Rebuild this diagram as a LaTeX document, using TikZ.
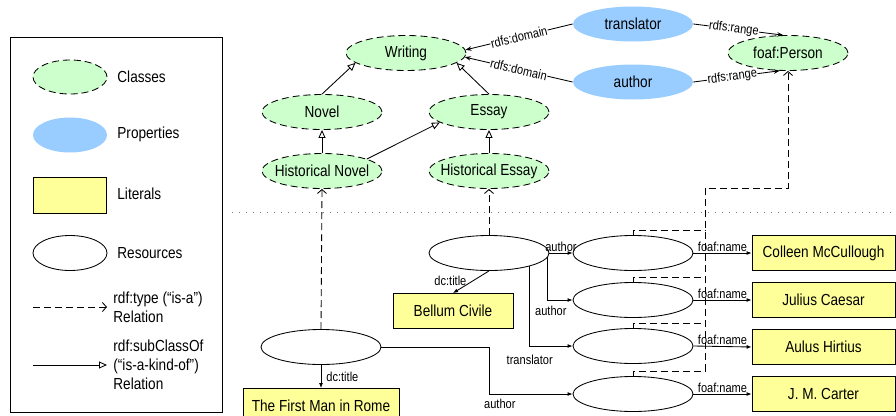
\documentclass[tikz,border=0pt]{standalone}
\usepackage{fontspec}
\setmainfont{Liberation Sans}[FakeStretch=0.85]
\usetikzlibrary{shapes.geometric,arrows.meta}
\definecolor{clsfill}{RGB}{204,255,204}
\definecolor{propfill}{RGB}{153,204,255}
\definecolor{litfill}{RGB}{255,255,153}
\newcommand{\zw}[1]{\makebox[0pt]{#1}}
\newcommand{\mfont}{\fontsize{16}{19}\selectfont}
\newcommand{\sfont}{\fontsize{13}{15}\selectfont}
\begin{document}
\begin{tikzpicture}[x=1pt,y=-1pt,line width=0.85pt,
  dsh/.style={dash pattern=on 7pt off 4pt},
  cls/.style={ellipse,draw,dsh,fill=clsfill,minimum width=120pt,minimum height=35pt,inner sep=0pt,font=\mfont},
  prop/.style={ellipse,fill=propfill,minimum width=120pt,minimum height=35pt,inner sep=0pt,font=\mfont},
  res/.style={ellipse,draw,fill=white,minimum width=120pt,minimum height=35pt,inner sep=0pt},
  lit/.style={rectangle,draw,fill=litfill,minimum width=120pt,minimum height=35pt,inner sep=0pt,font=\mfont},
  legtxt/.style={anchor=west,font=\mfont,align=left,inner sep=0pt},
  lbl/.style={font=\sfont,inner sep=1pt},
  onl/.style={font=\sfont,inner sep=0.5pt,fill=white,sloped},
  dom/.style={-{Stealth[length=6pt,width=4.5pt]}},
  sub/.style={-{Triangle[open,length=8pt,width=7pt]}},
  typ/.style={dsh,-{Straight Barb[length=4pt,width=9pt]}},
  rel/.style={-{Latex[length=5pt,width=4pt]}}]
\useasboundingbox (0,0) rectangle (896,415);
\clip (0,0) rectangle (896,415);

% legend
\node[draw,line width=0.7pt,minimum width=212pt,minimum height=375pt,inner sep=0pt] (legend) at (116,224.5) {};
\node[cls,minimum width=74pt,minimum height=34pt] (lgc) at (70,77) {};
\node[legtxt] (lgct) at (117,77) {Classes};
\node[prop,minimum width=74pt,minimum height=35pt] (lgp) at (70,135) {};
\node[legtxt] (lgpt) at (117,134) {Properties};
\node[lit,minimum width=73pt,minimum height=36pt] (lgl) at (70,195) {};
\node[legtxt] (lglt) at (117,194) {Literals};
\node[res,minimum width=74pt,minimum height=35pt] (lgr) at (70,253) {};
\node[legtxt] (lgrt) at (117,253) {Resources};
\coordinate (lta) at (33,307);
\coordinate (ltb) at (107,307);
\draw[typ] (lta) -- (ltb);
\node[legtxt] (lgtt) at (113,307) {rdf:type (“is-a”)\\Relation};
\coordinate (lsa) at (33,365);
\coordinate (lsb) at (107,365);
\draw[sub] (lsa) -- (lsb);
\node[legtxt] (lgst) at (113,365) {rdf:subClassOf\\(“is-a-kind-of”)\\Relation};

% separator
\coordinate (sepa) at (232,212);
\coordinate (sepb) at (896,212);
\draw[gray,line width=0.7pt,dash pattern=on 1pt off 6pt] (sepa) -- (sepb);

% classes and properties
\node[cls] (W) at (406,53) {\zw{Writing}};
\node[cls] (N) at (322,112) {\zw{Novel}};
\node[cls] (E) at (489,112) {\zw{Essay}};
\node[cls] (HN) at (322,171) {\zw{Historical Novel}};
\node[cls] (HE) at (489,171) {\zw{Historical Essay}};
\node[cls] (FP) at (788,53) {\zw{foaf:Person}};
\node[prop] (TR) at (633,24) {\zw{translator}};
\node[prop] (AU) at (633,82) {\zw{author}};

\draw[sub] (N.north) -- (W.191);
\draw[sub] (E.north) -- (W.349);
\draw[sub] (HN.north) -- (N.south);
\draw[sub] (HN.15) -- (E.192);
\draw[sub] (HE.north) -- (E.south);

\draw[dom] (TR.west) -- node[onl,pos=0.5] {rdfs:domain} (W.3);
\draw[dom] (AU.west) -- node[onl,pos=0.5] {rdfs:domain} (W.-4);
\draw[dom] (TR.east) -- node[onl,pos=0.45] {rdfs:range} (FP.105);
\draw[dom] (AU.east) -- node[onl,pos=0.45] {rdfs:range} (FP.245);

% resources
\node[res] (RBC) at (489,253) {};
\node[res] (RFM) at (321,347) {};
\node[lit] (BC) at (453,311) {Bellum Civile};
\node[lit,minimum width=156pt] (FM) at (321,406) {The First Man in Rome};
\node[res] (P1) at (633,253) {};
\node[res] (P2) at (633,300) {};
\node[res] (P3) at (633,346) {};
\node[res] (P4) at (633,394) {};
\node[lit,minimum width=143pt] (L1) at (823.5,253) {Colleen McCullough};
\node[lit,minimum width=143pt] (L2) at (823.5,300) {Julius Caesar};
\node[lit,minimum width=143pt] (L3) at (823.5,347) {Aulus Hirtius};
\node[lit,minimum width=143pt] (L4) at (823.5,394) {J. M. Carter};

% type relations
\draw[typ] (RBC.north) -- (HE.south);
\draw[typ] (RFM.north) -- (HN.south);
\coordinate (k1) at (705,230);
\coordinate (k2) at (705,277);
\coordinate (k3) at (705,323);
\coordinate (k4) at (705,371);
\coordinate (kt) at (705,188);
\draw[typ] (P4.north) |- (k4) -- (kt) -| (FP.south);
\draw[dsh] (P1.north) |- (k1);
\draw[dsh] (P2.north) |- (k2);
\draw[dsh] (P3.north) |- (k3);

% property relations
\draw[rel] (RBC.east) -- node[lbl,above] {author} (P1.west);
\draw[rel] (RBC.-4) |- node[lbl,below=5pt,pos=0.5,xshift=3pt] {author} (P2.west);
\draw[rel] (RBC.342) |- node[lbl,below=8pt,pos=0.5] {translator} (P3.west);
\coordinate (c4) at (489,394);
\draw[rel] (RFM.east) -| (c4) -- node[lbl,below=4pt,pos=0.13] {author} (P4.west);
\draw[rel] (RBC.south) -- node[lbl,left,pos=0.45,xshift=-5pt] {dc:title} (BC.north);
\draw[rel] (RFM.south) -- node[lbl,right,xshift=4pt] {dc:title} (FM.north);
\draw[rel] (P1.east) -- node[lbl,above] {foaf:name} (L1.west);
\draw[rel] (P2.east) -- node[lbl,above] {foaf:name} (L2.west);
\draw[rel] (P3.east) -- node[lbl,above] {foaf:name} (L3.west);
\draw[rel] (P4.east) -- node[lbl,above] {foaf:name} (L4.west);
\end{tikzpicture}
\end{document}
